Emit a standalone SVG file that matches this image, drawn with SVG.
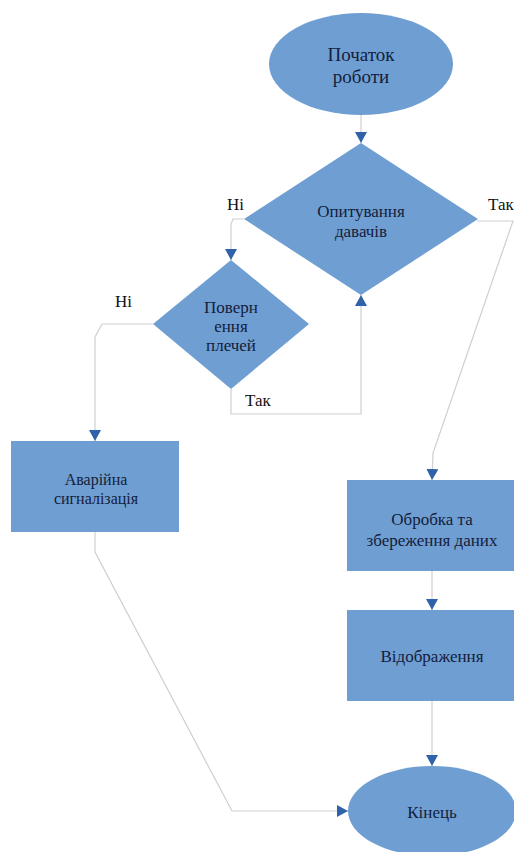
<svg xmlns="http://www.w3.org/2000/svg" width="514" height="852" viewBox="0 0 514 852">
<style>
.shape{fill:#6f9fd2;stroke:none}
text{font-family:'Liberation Serif','Times New Roman','DejaVu Serif',serif}
.t{font-size:17px;fill:#14203c;text-anchor:middle}
.lbl{font-size:17px;fill:#111}
.c{fill:none;stroke:#cfcfcf;stroke-width:1.2}
</style>
<defs>
<marker id="ah" markerUnits="userSpaceOnUse" markerWidth="11" markerHeight="12" viewBox="0 0 11 12" refX="11" refY="6" orient="auto">
<path d="M0,0 L11,6 L0,12 z" fill="#2f62a8"/>
</marker>
</defs>
<rect width="514" height="852" fill="#fff"/>
<g id="connectors">
<path class="c" d="M361,115 L361,143" marker-end="url(#ah)"/>
<path class="c" d="M244,219 L233,219 L231,224 L231,260" marker-end="url(#ah)"/>
<path class="c" d="M477,221 L513,221 L433,453 L432,480" marker-end="url(#ah)"/>
<path class="c" d="M231,389 L231,414 L361,414 L361,295" marker-end="url(#ah)"/>
<path class="c" d="M153,324 L102,324 L95,337 L95,441" marker-end="url(#ah)"/>
<path class="c" d="M95,532 L95,552 L232,811 L348,811" marker-end="url(#ah)"/>
<path class="c" d="M432,571 L432,610" marker-end="url(#ah)"/>
<path class="c" d="M432,701 L432,766" marker-end="url(#ah)"/>
</g>
<g id="start" font-family="Liberation Serif, serif">
<ellipse class="shape" cx="361" cy="64" rx="92" ry="51"/>
<text class="t" x="361" y="61" style="font-size:19px">Початок</text>
<text class="t" x="361" y="83" style="font-size:19px">роботи</text>
</g>
<g id="poll">
<polygon class="shape" points="361,143 478,219 361,295 244,219"/>
<text class="t" x="361" y="217">Опитування</text>
<text class="t" x="361" y="237">давачів</text>
</g>
<g id="shoulders">
<polygon class="shape" points="231,260 309,324 231,389 153,324"/>
<text class="t" x="231" y="313">Поверн</text>
<text class="t" x="231" y="332">ення</text>
<text class="t" x="231" y="351">плечей</text>
</g>
<g id="alarm">
<rect class="shape" x="11" y="441" width="168" height="91"/>
<text class="t" x="96" y="485" style="font-size:16px">Аварійна</text>
<text class="t" x="96" y="504" style="font-size:16px">сигналізація</text>
</g>
<g id="process">
<rect class="shape" x="347" y="480" width="170" height="91"/>
<text class="t" x="432" y="525">Обробка та</text>
<text class="t" x="432" y="546">збереження даних</text>
</g>
<g id="display">
<rect class="shape" x="347" y="610" width="170" height="91"/>
<text class="t" x="432" y="662">Відображення</text>
</g>
<g id="end">
<ellipse class="shape" cx="432" cy="811" rx="84" ry="45"/>
<text class="t" x="432" y="818">Кінець</text>
</g>
<g id="labels">
<text class="lbl" x="227" y="210">Ні</text>
<text class="lbl" x="488" y="210">Так</text>
<text class="lbl" x="115" y="307">Ні</text>
<text class="lbl" x="245" y="406">Так</text>
</g>
</svg>
